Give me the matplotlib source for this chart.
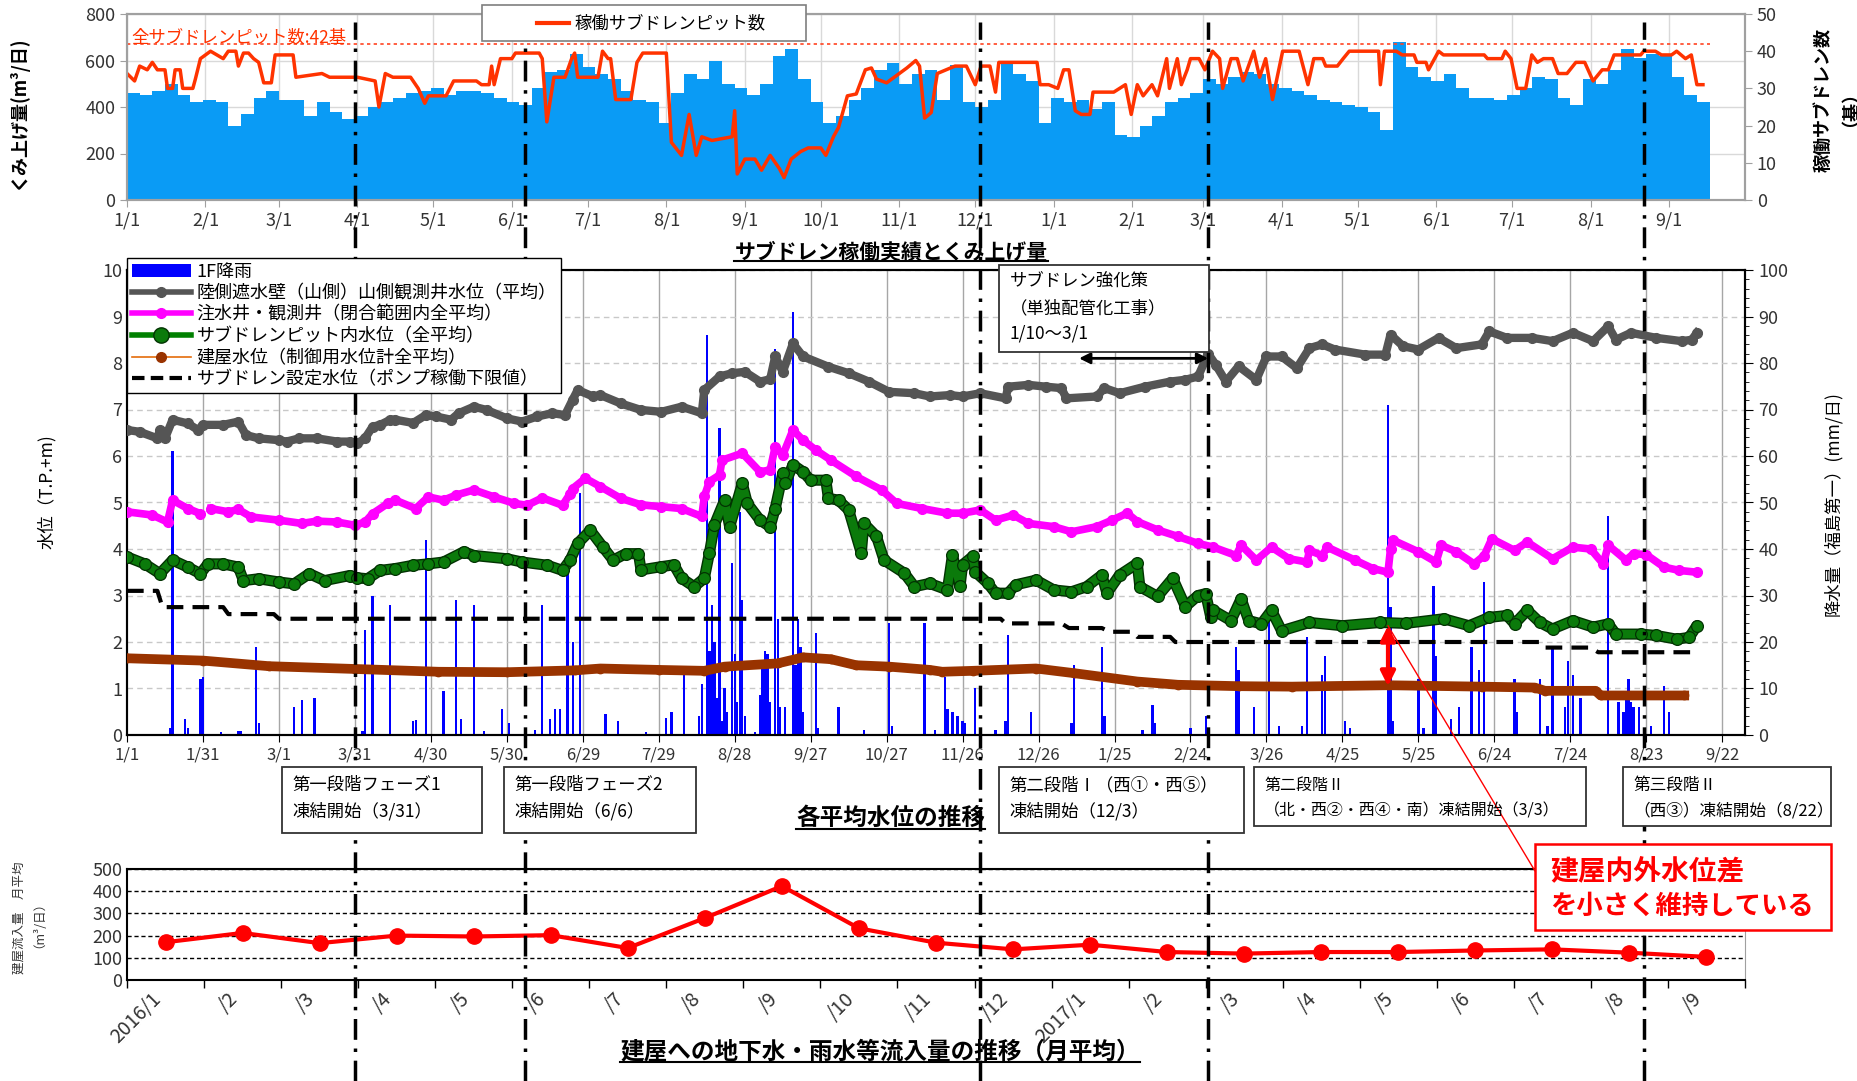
import matplotlib
matplotlib.use('Agg')
from matplotlib import pyplot as plt
from matplotlib.lines import Line2D
from matplotlib.patches import Rectangle, Patch, ConnectionPatch
from matplotlib.ticker import MultipleLocator
from matplotlib import transforms
import matplotlib.patheffects as pe

plt.rcParams['font.family'] = ['Noto Sans CJK JP', 'DejaVu Sans']

W = 1858; H = 1081

# day 0 = 2016/1/1

# ---- top: pumped volume (m3/day), one value per 5 days ----
pump_day = list(range(0, 625, 5))
pump_vol = [460, 450, 470, 500, 450, 420, 430, 420, 320, 370,
            440, 470, 430, 430, 360, 420, 380, 350, 360, 400,
            420, 440, 460, 470, 480, 450, 470, 470, 460, 440,
            420, 410, 480, 550, 560, 630, 570, 540, 520, 470,
            430, 420, 330, 460, 540, 520, 600, 500, 480, 450,
            500, 620, 650, 520, 420, 330, 360, 430, 480, 560,
            590, 500, 540, 560, 430, 580, 420, 400, 430, 590,
            540, 510, 330, 440, 420, 430, 390, 420, 280, 270,
            320, 360, 420, 440, 460, 520, 500, 530, 550, 540,
            500, 480, 470, 450, 430, 420, 410, 400, 380, 300,
            680, 570, 530, 510, 540, 480, 440, 440, 430, 450,
            480, 530, 520, 440, 410, 520, 500, 560, 650, 610,
            630, 620, 530, 450, 420]

# active subdrain pits
red_day = [0, 3, 5, 8, 10, 12, 15, 16, 18, 19, 21, 22, 26, 27, 29, 33, 38, 40, 43, 44,
           46, 48, 50, 52, 54, 57, 58.5, 65.6, 66.7, 77, 80, 91, 98, 99.5, 102, 105, 112, 115, 117.6, 119,
           126, 129, 138, 140, 143, 144, 145, 147.5, 152, 153.4, 162.8, 164, 165.8, 168.6, 173, 175.6, 176.8, 178, 186, 187.8,
           190, 191, 193, 199, 201.4, 203.7, 213, 215, 219, 222, 224.8, 227, 231, 239, 240, 241, 244, 248, 250.6, 254,
           257.6, 259.5, 262.3, 266, 269, 274, 276, 279, 281, 284.5, 288, 291.6, 294, 296, 300, 304, 308, 311.5, 313, 315,
           317.6, 320, 327, 331.5, 335, 337.3, 340.8, 343, 344.3, 359.4, 360.6, 364, 367.6, 369.9, 372, 374.5, 376.9, 380.3, 381.5, 389.7,
           392, 394.3, 396.6, 399, 401.3, 404.8, 407, 410.6, 411.7, 414.8, 416.4, 418.7, 420, 423.4, 425.7, 428.7, 431.5, 432.7, 436, 438.5,
           440.8, 445, 447.3, 449.7, 452.4, 456.4, 462.9, 466.4, 468.7, 472.2, 473.4, 478, 480.3, 482.7, 494.3, 495, 496.6, 501.3, 503.6, 508.3,
           509.4, 513, 514, 518, 519.9, 536, 537.3, 543, 544.3, 546.6, 549, 552.4, 554.8, 557, 559.4, 563, 565.2, 568.7, 572.2, 575.7,
           579, 582.6, 585, 587.3, 597.8, 599, 603.6, 606, 610, 612, 615.5, 617.8, 620, 622.4]
red_num = [34, 32, 36, 35, 37, 35, 35, 30, 30, 35, 35, 30, 30, 32.5, 38, 40, 38, 40, 40, 36,
           39.5, 39.5, 38, 37, 31.5, 31.5, 39, 39, 33, 34, 33, 33, 32, 25, 34, 33, 33, 30, 26, 28,
           28, 32, 32, 31, 31, 36, 31, 38, 38, 39.5, 39.5, 38, 21, 33, 33, 38, 39.5, 33, 33, 40,
           38, 38, 27, 27, 37, 39.5, 39.5, 15.5, 12, 23, 12, 17, 16, 17, 24, 7, 11, 11, 8, 12,
           8.5, 6, 11, 13, 14, 14, 12, 17, 19.5, 28, 28.5, 35, 35.5, 32.5, 31.5, 33.5, 35.5, 37.5, 36, 22,
           23.5, 34, 36, 36, 31, 36, 36, 29, 37, 37, 31, 31, 30, 35, 35, 24, 23, 23, 29, 29,
           30, 31, 23, 31, 28, 31, 28, 38, 30, 38, 31, 35, 38, 38, 35, 40, 38, 30, 38, 38,
           32, 40, 33, 38, 27, 40, 40, 31, 38, 38, 36, 36, 38, 40, 40, 31, 40, 40, 39, 39,
           37, 37, 35, 40, 39, 39, 38, 38, 40, 38, 30, 30, 39, 37, 38, 38, 34, 34, 37, 37,
           32, 35, 35, 39, 39, 40, 40, 39, 39, 40, 38, 39, 31, 31]
all_pits = 42

month_day = [0, 31, 60, 91, 121, 152, 182, 213, 244, 274, 305, 335,
             366, 397, 425, 456, 486, 517, 547, 578, 609]
month_lbl = ['1/1', '2/1', '3/1', '4/1', '5/1', '6/1', '7/1', '8/1', '9/1', '10/1', '11/1', '12/1',
             '1/1', '2/1', '3/1', '4/1', '5/1', '6/1', '7/1', '8/1', '9/1']

# ---- middle: water levels (T.P.+m) ----
tick30_day = [0, 30, 60, 90, 120, 150, 180, 210, 240, 270, 300, 330, 360, 390, 420, 450, 480, 510, 540, 570, 600, 630]
tick30_lbl = ['1/1', '1/31', '3/1', '3/31', '4/30', '5/30', '6/29', '7/29', '8/28', '9/27', '10/27',
              '11/26', '12/26', '1/25', '2/24', '3/26', '4/25', '5/25', '6/24', '7/24', '8/23', '9/22']

gray_day = [0, 5, 12, 13, 15, 18, 24, 28, 30, 38, 44, 47, 52, 60, 63, 68, 75, 83, 88, 91,
            94, 97, 100, 104, 106, 113, 118, 122, 128, 131, 137, 142, 150, 156, 162, 168, 173, 176, 178, 184,
            187, 195, 203, 211, 219, 227, 228, 234, 239, 244, 250, 254, 256, 259, 263, 267, 277, 285, 293, 301,
            311, 317, 325, 330, 337, 347, 348, 356, 363, 369, 371, 383, 386, 392, 402, 412, 418, 423, 427, 430,
            434, 439, 446, 450, 456, 462, 467, 472, 477, 489, 497, 499, 504, 510, 518, 525, 535, 538, 545, 555,
            563, 571, 579, 585, 588, 594, 604, 614, 618, 620]
gray_lv = [6.56, 6.52, 6.38, 6.56, 6.38, 6.78, 6.7, 6.56, 6.67, 6.67, 6.74, 6.45, 6.38, 6.34, 6.31, 6.38, 6.38, 6.31, 6.31, 6.27,
           6.38, 6.63, 6.67, 6.78, 6.78, 6.71, 6.88, 6.85, 6.78, 6.92, 7.06, 6.99, 6.81, 6.74, 6.85, 6.92, 6.88, 7.21, 7.42, 7.28,
           7.31, 7.13, 6.99, 6.95, 7.06, 6.92, 7.42, 7.71, 7.78, 7.81, 7.6, 7.65, 8.14, 7.81, 8.42, 8.14, 7.92, 7.78, 7.6, 7.38,
           7.35, 7.28, 7.31, 7.28, 7.35, 7.24, 7.49, 7.53, 7.49, 7.46, 7.24, 7.28, 7.46, 7.35, 7.49, 7.6, 7.64, 7.71, 8.2, 7.96,
           7.6, 7.93, 7.64, 8.14, 8.14, 7.89, 8.32, 8.4, 8.29, 8.18, 8.18, 8.61, 8.36, 8.29, 8.54, 8.32, 8.4, 8.68, 8.54, 8.54,
           8.47, 8.65, 8.47, 8.79, 8.5, 8.65, 8.54, 8.47, 8.5, 8.65]

mag_day = [0, 10, 16, 18, 24, 29, 31, 33, 40, 44, 49, 60, 69, 75, 83, 90, 94, 97, 103, 106,
           114, 119, 125, 130, 137, 145, 153, 158, 164, 172, 175, 176, 181, 187, 195, 203, 211, 219, 227, 228,
           230, 234, 235, 243, 250, 254, 256, 259, 263, 267, 272, 278, 288, 298, 304, 314, 324, 330, 337, 343,
           350, 356, 366, 373, 383, 389, 395, 399, 407, 415, 423, 429, 438, 440, 446, 452, 459, 466, 467, 472,
           474, 485, 492, 498, 499, 500, 510, 517, 519, 525, 532, 536, 539, 548, 553, 563, 571, 578, 583, 585,
           592, 595, 600, 607, 613, 620]
mag_lv = [4.8, 4.73, 4.58, 5.05, 4.87, 4.76, float('nan'), 4.87, 4.8, 4.85, 4.69, 4.62, 4.55, 4.6, 4.58, 4.51, 4.58, 4.76, 4.98, 5.05,
          4.87, 5.12, 5.05, 5.16, 5.27, 5.12, 4.98, 4.94, 5.1, 4.94, 5.19, 5.3, 5.52, 5.34, 5.09, 4.95, 4.91, 4.87, 4.7, 5.13,
          5.45, 5.59, 5.91, 6.06, 5.66, 5.7, 6.2, 6.02, 6.56, 6.34, 6.13, 5.91, 5.56, 5.27, 4.98, 4.87, 4.77, 4.77, 4.84, 4.62,
          4.73, 4.55, 4.48, 4.37, 4.48, 4.62, 4.77, 4.59, 4.41, 4.27, 4.12, 4.04, 3.86, 4.08, 3.76, 4.04, 3.79, 3.72, 3.97, 3.86,
          4.04, 3.76, 3.58, 3.5, 4.0, 4.19, 3.94, 3.72, 4.08, 3.94, 3.68, 3.86, 4.22, 3.97, 4.15, 3.79, 4.04, 4.0, 3.68, 4.08,
          3.76, 3.9, 3.88, 3.61, 3.54, 3.5]

grn_day = [0, 7, 13, 18, 24, 29, 32, 38, 44, 46, 52, 60, 66, 72, 78, 88, 91, 95, 100, 106,
           113, 119, 125, 133, 137, 150, 156, 166, 172, 175, 178, 183, 188, 192, 197, 202, 203, 211, 216, 219,
           224, 228, 230, 232, 236, 238, 243, 245, 250, 254, 256, 259, 260, 263, 267, 270, 276, 277, 281, 285,
           290, 291, 296, 299, 307, 311, 317, 324, 326, 329, 330, 334, 335, 340, 343, 348, 351, 359, 366, 373,
           379, 385, 387, 392, 399, 400, 407, 413, 418, 423, 426, 428, 429, 436, 440, 443, 448, 452, 456, 467,
           480, 495, 505, 520, 530, 538, 545, 548, 553, 558, 563, 571, 579, 585, 588, 598, 604, 612, 617, 620]
grn_lv = [3.83, 3.68, 3.47, 3.76, 3.61, 3.47, 3.68, 3.68, 3.61, 3.32, 3.36, 3.29, 3.25, 3.47, 3.32, 3.43, 3.38, 3.36, 3.54, 3.58,
          3.65, 3.68, 3.72, 3.94, 3.86, 3.79, 3.72, 3.65, 3.54, 3.76, 4.12, 4.4, 4.04, 3.76, 3.9, 3.9, 3.55, 3.62, 3.66, 3.37,
          3.19, 3.37, 3.91, 4.52, 5.05, 4.48, 5.41, 4.98, 4.62, 4.48, 4.87, 5.63, 5.41, 5.81, 5.66, 5.48, 5.48, 5.09, 5.05, 4.84,
          3.91, 4.55, 4.27, 3.76, 3.48, 3.19, 3.26, 3.12, 3.87, 3.2, 3.66, 3.84, 3.51, 3.26, 3.05, 3.05, 3.23, 3.33, 3.12, 3.08,
          3.19, 3.44, 3.05, 3.44, 3.69, 3.19, 2.98, 3.37, 2.76, 3.0, 3.04, 2.54, 2.68, 2.46, 2.93, 2.46, 2.39, 2.68, 2.24, 2.42,
          2.35, 2.42, 2.4, 2.5, 2.35, 2.53, 2.57, 2.39, 2.68, 2.42, 2.28, 2.46, 2.32, 2.39, 2.17, 2.17, 2.14, 2.06, 2.1, 2.35]

brn_day = [0, 30, 56, 90, 123, 150, 177, 187, 210, 228, 236, 257, 267, 278, 288, 301, 317, 322, 334, 359,
           374, 399, 415, 439, 460, 498, 535, 556, 560, 580, 582, 615]
brn_lv = [1.65, 1.6, 1.48, 1.42, 1.36, 1.35, 1.39, 1.43, 1.4, 1.38, 1.47, 1.54, 1.67, 1.63, 1.5, 1.47, 1.4, 1.36, 1.38, 1.43,
          1.33, 1.15, 1.08, 1.05, 1.04, 1.07, 1.04, 1.02, 0.95, 0.95, 0.85, 0.85]

set_day = [0, 12, 14, 38, 40, 58, 60, 345, 347, 369, 372, 385, 388, 397, 399, 412, 414, 558, 560, 578, 581, 620]
set_lv = [3.1, 3.1, 2.75, 2.75, 2.6, 2.6, 2.5, 2.5, 2.4, 2.4, 2.3, 2.3, 2.22, 2.22, 2.11, 2.11, 2.0, 2.0, 1.88, 1.88, 1.78, 1.78]

# rain (mm/day)
rain_day = [17, 18, 23, 24, 29, 30, 37, 44, 45, 51,
            52, 66, 69, 74, 93, 94, 97, 104, 113, 114,
            118, 125, 130, 132, 137, 141, 148, 151, 161, 164,
            167, 169, 171, 174, 176, 179, 189, 194, 205, 213,
            215, 220, 226, 227, 229, 230, 231, 232, 233, 234,
            235, 236, 237, 239, 240, 241, 242, 243, 244, 248,
            250, 251, 252, 253, 254, 256, 257, 258, 260, 263,
            264, 265, 266, 267, 272, 273, 281, 291, 301, 302,
            315, 319, 323, 324, 326, 328, 330, 331, 335, 343,
            347, 348, 357, 373, 374, 385, 386, 401, 405, 406,
            420, 426, 438, 439, 445, 451, 455, 464, 466, 472,
            473, 481, 483, 498, 499, 500, 510, 512, 516, 517,
            523, 526, 531, 534, 536, 548, 549, 558, 561, 563,
            568, 569, 571, 574, 585, 589, 591, 592, 593, 594,
            595, 597, 602, 607, 609]
rain_mm = [1.4, 61, 3.4, 1.4, 12, 12.5, 0.6, 0.8, 0.8, 19,
           2.5, 6, 7.5, 8, 0.8, 22.5, 30, 28, 3, 3.2,
           42, 9.5, 29, 3.4, 28, 0.8, 5.5, 2.5, 1, 28,
           3.4, 5.5, 5.5, 35, 20, 52, 4.5, 3, 0.7, 3.6,
           5, 13, 4, 11, 86, 18, 28, 20, 8, 66,
           3, 10, 5, 37, 17.5, 7, 48, 29, 4, 0.7,
           8.5, 15, 18, 17.5, 7, 83, 25, 6, 6, 91,
           15, 25, 19, 5, 22, 1.4, 6, 1, 24, 2,
           24, 1, 12.5, 5.5, 5, 4, 3, 2.5, 10, 1,
           3, 21.5, 5, 2.5, 15, 19, 4, 1, 6.5, 2.5,
           1.5, 4, 19, 14, 6, 27, 2, 2, 21, 13,
           17, 3, 1.5, 71, 27.5, 3, 12, 1.5, 32, 17,
           3.5, 6, 19, 14, 33, 12, 5, 12, 2, 19,
           6, 16, 13, 8, 47, 7, 5, 9.5, 12, 7,
           6, 6, 2, 10.5, 5]

freeze_day = [90, 157, 337, 427, 599]

# ---- bottom: monthly inflow ----
mon_lbl = ['2016/1', '/2', '/3', '/4', '/5', '/6', '/7', '/8', '/9', '/10', '/11', '/12',
           '2017/1', '/2', '/3', '/4', '/5', '/6', '/7', '/8', '/9']
inflow = [170, 212, 166, 200, 196, 202, 144, 279, 423, 233, 168, 138,
          159, 126, 119, 126, 126, 133, 138, 123, 104]


def fx(x):
    return x / W


def fy(y):
    return 1 - y / H


fig = plt.figure(figsize=(W / 100, H / 100), dpi=100)
L = fx(127); AW = (1745 - 127) / W

# ================= top panel =================
ax1 = fig.add_axes([L, fy(200), AW, (200 - 14) / H])
ax1.bar(pump_day, pump_vol, width=5, align='edge', color='#0A9BF5', linewidth=0)
ax1.set_xlim(0, 639)
ax1.set_ylim(0, 800)
ax1.set_yticks(range(0, 801, 200))
ax1.set_xticks(month_day)
ax1.set_xticklabels(month_lbl)
ax1.grid(True, color='#D9D9D9', lw=1)
ax1.set_axisbelow(True)
for s in ax1.spines.values():
    s.set_color('#A0A0A0')
    s.set_linewidth(1.5)
ax1.tick_params(colors='#A0A0A0', labelcolor='#333333', labelsize=13, length=5)

ax1r = ax1.twinx()
ax1r.plot(red_day, red_num, color='#FF3300', lw=2.5)
ax1r.plot([0, 625], [all_pits, all_pits], color='#FF4422', lw=1.2, ls=(0, (2, 2)))
ax1r.set_ylim(0, 50)
ax1r.set_yticks(range(0, 51, 10))
for s in ax1r.spines.values():
    s.set_color('#A0A0A0')
    s.set_linewidth(1.5)
ax1r.tick_params(colors='#A0A0A0', labelcolor='#333333', labelsize=13, length=5)
fig.text(fx(131), fy(37), '全サブドレンピット数:42基', color='#FF3300', fontsize=12.5, va='center')

# top legend (drawn by hand to match the box)
fig.add_artist(Rectangle((fx(482), fy(41)), fx(806) - fx(482), (41 - 5) / H, transform=fig.transFigure,
                         facecolor='white', edgecolor='#7F7F7F', lw=1.2, zorder=5))
fig.add_artist(Line2D([fx(537), fx(569)], [fy(23), fy(23)], transform=fig.transFigure,
                      color='#FF3300', lw=3, zorder=6))
fig.text(fx(574), fy(23), '稼働サブドレンピット数', fontsize=12.5, va='center', zorder=6)

fig.text(fx(18), fy(113), 'くみ上げ量(m³/日)', rotation=90, fontsize=13, fontweight='bold',
         ha='center', va='center')
fig.text(fx(1832), fy(100), '稼働サブドレン数\n（基）', rotation=90, fontsize=13, fontweight='bold',
         ha='center', va='center', multialignment='center', linespacing=0.95)

# ================= middle panel =================
ax2 = fig.add_axes([L, fy(735), AW, (735 - 270) / H])
ax2r = ax2.twinx()
ax2.set_zorder(ax2r.get_zorder() + 1)
ax2.patch.set_visible(False)

for d in tick30_day[1:]:
    ax2r.axvline(d, color='#A6A6A6', lw=1, zorder=0)
ax2r.bar(rain_day, rain_mm, width=0.9, color='#0000FF', linewidth=0, zorder=1)
ax2r.set_ylim(0, 100)
ax2r.set_yticks(range(0, 101, 10))
ax2r.yaxis.set_minor_locator(MultipleLocator(2))
ax2r.grid(axis='y', color='#C8C8C8', ls=(0, (4, 3)), lw=1)
ax2r.set_axisbelow(True)
ax2r.tick_params(axis='y', which='major', labelsize=13, length=6, colors='black', labelcolor='#333333')
ax2r.tick_params(axis='y', which='minor', length=3)

ax2.plot(set_day, set_lv, color='black', lw=3, ls=(0, (4, 2.2)), zorder=3)
ax2.plot(brn_day, brn_lv, color='#993300', lw=7, marker='o', ms=6, solid_joinstyle='round', zorder=3)
ax2.plot(gray_day, gray_lv, color='#555555', lw=6, marker='o', ms=7, solid_joinstyle='round', zorder=3)
ax2.plot(mag_day, mag_lv, color='#FF00FF', lw=5.5, marker='o', ms=7, solid_joinstyle='round', zorder=3)
ax2.plot(grn_day, grn_lv, color='#0B7A0B', lw=6, solid_joinstyle='round', solid_capstyle='round',
         path_effects=[pe.Stroke(linewidth=8, foreground='#023302'), pe.Normal()], zorder=4)
ax2.plot(grn_day, grn_lv, ls='none', marker='o', ms=8.5, mfc='#0B7A0B', mec='#023302', mew=0.9, zorder=4)
ax2.set_xlim(0, 639)
ax2.set_ylim(0, 10)
ax2.set_yticks(range(0, 11))
ax2.set_xticks(tick30_day)
ax2.set_xticklabels(tick30_lbl)
ax2.tick_params(axis='y', length=0, labelsize=13, labelcolor='#333333')
ax2.tick_params(axis='x', length=5, labelsize=12, labelcolor='#333333')
for s in ['top', 'bottom', 'right', 'left']:
    ax2.spines[s].set_linewidth(1.5)
    ax2r.spines[s].set_linewidth(1.5)

# building in/out difference arrow
ax2.annotate('', xy=(498, 1.05), xytext=(498, 2.35),
             arrowprops=dict(arrowstyle='<|-|>', color='#FF0000', lw=3, mutation_scale=22,
                             shrinkA=0, shrinkB=0), zorder=6)
# subdrain works period arrow
ax2.annotate('', xy=(376, 8.1), xytext=(427, 8.1),
             arrowprops=dict(arrowstyle='<|-|>', color='black', lw=2, mutation_scale=16,
                             shrinkA=0, shrinkB=0), zorder=6)
fig.add_artist(ConnectionPatch(xyA=(498, 2.35), coordsA=ax2.transData,
                               xyB=(fx(1535), fy(871)), coordsB=fig.transFigure,
                               color='#FF0000', lw=1, zorder=6))

fig.text(fx(47), fy(492), '水位（T.P.+m)', rotation=90, fontsize=12.5, ha='center', va='center')
fig.text(fx(1833), fy(504), '降水量（福島第一）(mm/日)', rotation=90, fontsize=12.5, ha='center', va='center')

leg_handles = [Patch(facecolor='#0000FF'),
               Line2D([], [], color='#555555', lw=4, marker='o', ms=7),
               Line2D([], [], color='#FF00FF', lw=4, marker='o', ms=7),
               Line2D([], [], color='#008000', lw=4, marker='o', ms=11, mfc='#0B7A0B', mec='#023302'),
               Line2D([], [], color='#E46C0A', lw=1.2, marker='o', ms=7, mfc='#993300', mec='#993300'),
               Line2D([], [], color='black', lw=3, ls=(0, (3, 1.5)))]
leg_labels = ['1F降雨',
              '陸側遮水壁（山側）山側観測井水位（平均）',
              '注水井・観測井（閉合範囲内全平均）',
              'サブドレンピット内水位（全平均）',
              '建屋水位（制御用水位計全平均）',
              'サブドレン設定水位（ポンプ稼働下限値）']
fig.legend(leg_handles, leg_labels, loc='upper left', bbox_to_anchor=(fx(127), fy(258)),
           bbox_transform=fig.transFigure, fontsize=13, fancybox=False, edgecolor='black',
           framealpha=1, borderpad=0.25, labelspacing=0.2, handlelength=3.3, handletextpad=0.3,
           borderaxespad=0)

# ================= bottom panel =================
ax3 = fig.add_axes([L, fy(980), AW, (980 - 869) / H])
xs = list(range(len(inflow)))
ax3.plot(xs, inflow, color='#FF0000', lw=3, marker='o', ms=11, zorder=3)
ax3.set_xlim(-0.5, len(inflow) - 0.5)
ax3.set_ylim(0, 500)
ax3.set_yticks(range(0, 501, 100))
ax3.grid(axis='y', color='black', ls=(0, (3, 2)), lw=1)
ax3.set_axisbelow(True)
ax3.set_xticks(xs)
ax3.set_xticklabels(mon_lbl, rotation=45, ha='right', va='top', fontsize=14, color='#333333')
ax3.set_xticks([i + 0.5 for i in range(-1, len(inflow))], minor=True)
ax3.tick_params(axis='x', which='major', length=0, pad=6)
ax3.tick_params(axis='x', which='minor', length=6, width=1)
ax3.tick_params(axis='y', labelsize=13, length=0, labelcolor='#333333')
ax3.spines['right'].set_color('#A0A0A0')
ax3.spines['bottom'].set_linewidth(1.5)
ax3.spines['left'].set_linewidth(1.5)
ax3.spines['top'].set_linewidth(1.5)
fig.text(fx(26), fy(918), '建屋流入量　月平均\n（m³/日）', rotation=90, fontsize=9,
         ha='center', va='center', multialignment='center', linespacing=1.0, color='#333333')

# ================= freeze event lines =================
trans = transforms.blended_transform_factory(ax2.transData, fig.transFigure)
for d in freeze_day:
    fig.add_artist(Line2D([d, d], [0, fy(22)], transform=trans, color='black', lw=2.5,
                          ls=(0, (6, 2.5, 1, 2.5)), zorder=2.5))

# ================= boxes =================
boxes = [(282, 767, 482, 833, '第一段階フェーズ1', '凍結開始（3/31）', 12.5),
         (504, 767, 696, 833, '第一段階フェーズ2', '凍結開始（6/6）', 12.5),
         (999, 767, 1244, 833, '第二段階Ⅰ（西①・西⑤）', '凍結開始（12/3）', 12.5),
         (1254, 767, 1586, 826, '第二段階Ⅱ', '（北・西②・西④・南）凍結開始（3/3）', 11.5),
         (1623, 767, 1831, 826, '第三段階Ⅱ', '（西③）凍結開始（8/22）', 12)]
for x0, y0, x1, y1, t1, t2, fs in boxes:
    fig.add_artist(Rectangle((fx(x0), fy(y1)), fx(x1) - fx(x0), (y1 - y0) / H, transform=fig.transFigure,
                             facecolor='white', edgecolor='#333333', lw=1.3, zorder=4))
    fig.text(fx(x0 + 10), fy(y0 + 18), t1, fontsize=fs, va='center', zorder=6)
    fig.text(fx(x0 + 10), fy(y0 + 44), t2, fontsize=fs, va='center', zorder=6)

fig.add_artist(Rectangle((fx(999), fy(352)), fx(1209) - fx(999), (352 - 265) / H, transform=fig.transFigure,
                         facecolor='white', edgecolor='#333333', lw=1.3, zorder=4))
for i, s in enumerate(['サブドレン強化策', '（単独配管化工事）', '1/10～3/1']):
    fig.text(fx(1010), fy(282 + 26 * i), s, fontsize=12.5, va='center', zorder=6)

fig.add_artist(Rectangle((fx(1535), fy(930)), fx(1831) - fx(1535), (930 - 844) / H, transform=fig.transFigure,
                         facecolor='white', edgecolor='#FF0000', lw=1.8, zorder=4))
fig.text(fx(1550), fy(871), '建屋内外水位差', fontsize=20, fontweight='bold', color='#FF0000',
         va='center', zorder=6)
fig.text(fx(1550), fy(906), 'を小さく維持している', fontsize=19, fontweight='bold', color='#FF0000',
         va='center', zorder=6)

# ================= titles (underlined) =================
titles = [fig.text(fx(891), fy(252), 'サブドレン稼働実績とくみ上げ量', fontsize=15, fontweight='bold',
                   ha='center', va='center', zorder=6),
          fig.text(fx(891), fy(818), '各平均水位の推移', fontsize=17, fontweight='bold',
                   ha='center', va='center', zorder=6),
          fig.text(fx(880), fy(1051), '建屋への地下水・雨水等流入量の推移（月平均）', fontsize=17,
                   fontweight='bold', ha='center', va='center', zorder=6)]
fig.canvas.draw()
rend = fig.canvas.get_renderer()
for t in titles:
    bb = t.get_window_extent(rend).transformed(fig.transFigure.inverted())
    fig.add_artist(Line2D([bb.x0, bb.x1], [bb.y0 + 0.001, bb.y0 + 0.001], transform=fig.transFigure,
                          color='black', lw=1.5, zorder=6))

fig.savefig('out.png', dpi=100)
